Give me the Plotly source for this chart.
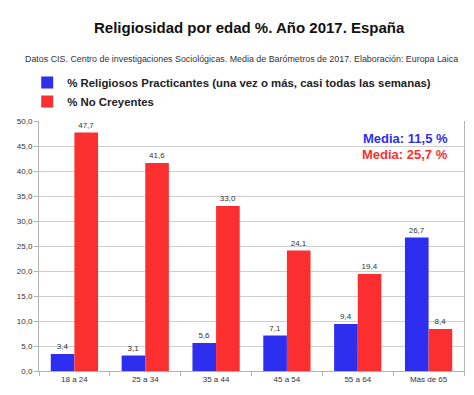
import plotly.graph_objects as go

categories = ["18 a 24", "25 a 34", "35 a 44", "45 a 54", "55 a 64", "Más de 65"]
practicantes = [3.4, 3.1, 5.6, 7.1, 9.4, 26.7]
no_creyentes = [47.7, 41.6, 33.0, 24.1, 19.4, 8.4]
y_ticks = [0, 5, 10, 15, 20, 25, 30, 35, 40, 45, 50]
media_practicantes = "Media: 11,5 %"
media_no_creyentes = "Media: 25,7 %"

BLUE = "#2e2ef0"
RED = "#fb2f2f"
FONT = "Liberation Sans, Arial, sans-serif"

# page has an 8px body margin; size the figure so it fits the window
OFF = 8
W, H = 474 - OFF, 395 - OFF
# plot area in page pixels: x 32..465, y 121..371
L, R, T, B = 32 - OFF, 474 - 465, 121 - OFF, 395 - 371
PW, PH = W - L - R, H - T - B


def px(x):
    return (x - OFF - L) / PW


def py(y):
    return (H - B - (y - OFF)) / PH


fig = go.Figure()
fig.add_trace(go.Bar(
    x=categories, y=practicantes,
    name="<b>% Religiosos Practicantes (una vez o más, casi todas las semanas)</b>",
    marker=dict(color=BLUE, line=dict(width=0)),
    text=[f"{v:.1f}".replace(".", ",") for v in practicantes], textposition="outside",
    textfont=dict(size=8, color="#333333"), cliponaxis=False,
))
fig.add_trace(go.Bar(
    x=categories, y=no_creyentes, name="<b>% No Creyentes</b>",
    marker=dict(color=RED, line=dict(width=0)),
    text=[f"{v:.1f}".replace(".", ",") for v in no_creyentes], textposition="outside",
    textfont=dict(size=8, color="#333333"), cliponaxis=False,
))

fig.update_layout(
    width=W, height=H,
    paper_bgcolor="white", plot_bgcolor="white",
    separators=",.",
    font=dict(family=FONT, color="#222222"),
    margin=dict(l=L, r=R, t=T, b=B),
    barmode="group", bargap=0.333, bargroupgap=0,
    showlegend=True,
    legend=dict(
        x=px(20), y=py(68), xref="paper", yref="paper",
        yanchor="top", xanchor="left",
        font=dict(size=11.4, family=FONT, color="#222222"),
        itemsizing="constant", tracegroupgap=0,
        bgcolor="rgba(0,0,0,0)",
    ),
)

fig.add_annotation(text="<b>Religiosidad por edad %. Año 2017. España</b>",
                   x=px(246), y=py(28), xref="paper", yref="paper",
                   xanchor="center", yanchor="middle", showarrow=False,
                   font=dict(size=15, family=FONT, color="#111111"))
fig.add_annotation(text="Datos CIS. Centro de investigaciones Sociológicas. Media de Barómetros de 2017. Elaboración: Europa Laica",
                   x=px(238), y=py(59), xref="paper", yref="paper",
                   xanchor="center", yanchor="middle", showarrow=False,
                   font=dict(size=8.9, family=FONT, color="#333333"))
fig.add_annotation(text="<b>" + media_practicantes + "</b>",
                   x=px(451), y=py(138), xref="paper", yref="paper",
                   xanchor="right", yanchor="middle", showarrow=False,
                   font=dict(size=13, family=FONT, color=BLUE))
fig.add_annotation(text="<b>" + media_no_creyentes + "</b>",
                   x=px(451), y=py(154), xref="paper", yref="paper",
                   xanchor="right", yanchor="middle", showarrow=False,
                   font=dict(size=13, family=FONT, color=RED))

fig.update_xaxes(
    showgrid=False, showline=True, linecolor="#b3b3b3", linewidth=1,
    ticks="outside", tickson="boundaries", ticklen=4, tickcolor="#b3b3b3",
    tickfont=dict(size=8, color="#333333"), mirror=False,
)
fig.update_yaxes(
    range=[0, 50], tickvals=y_ticks, tickformat=".1f",
    showgrid=True, gridcolor="#cfcfcf", gridwidth=1,
    showline=True, linecolor="#b3b3b3", linewidth=1, mirror=True,
    ticks="outside", ticklen=4, tickcolor="#b3b3b3",
    tickfont=dict(size=8, color="#333333"), zeroline=False,
)

fig.write_html("out.html")
